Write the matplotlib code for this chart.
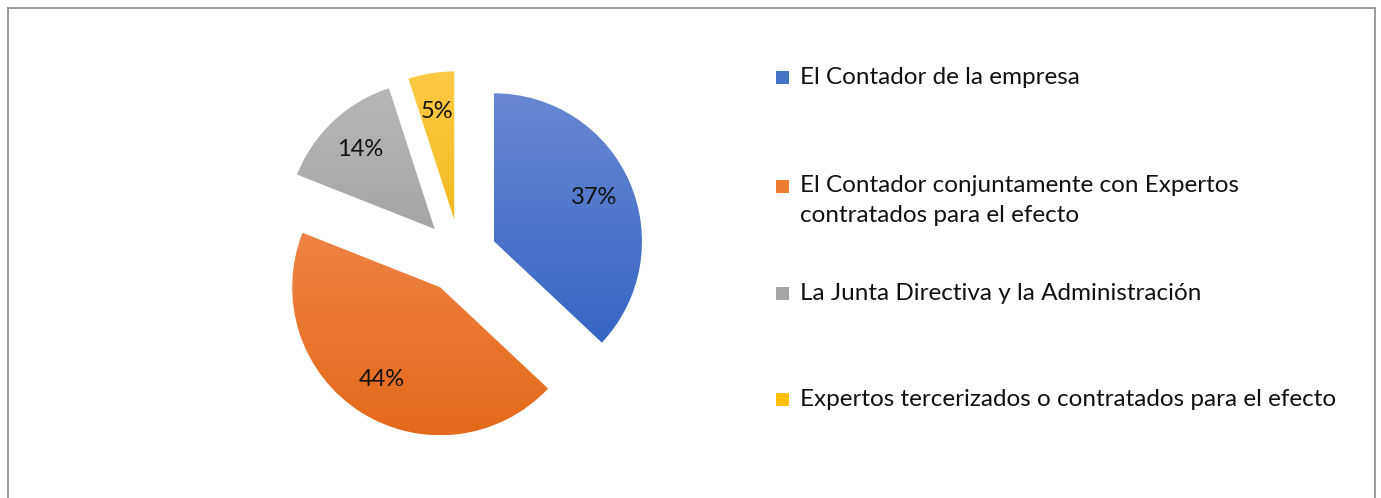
import numpy as np
import matplotlib
matplotlib.use('Agg')
import matplotlib.pyplot as plt
from matplotlib.colors import LinearSegmentedColormap
from matplotlib.patches import Rectangle
from matplotlib.lines import Line2D

plt.rcParams['font.family'] = ['Lato', 'DejaVu Sans']

# Données
categories = [
    'El Contador de la empresa',
    'El Contador conjuntamente con Expertos\ncontratados para el efecto',
    'La Junta Directiva y la Administración',
    'Expertos tercerizados o contratados para el efecto',
]
valeurs = [37, 44, 14, 5]

# Couleurs (haut clair -> bas foncé)
couleurs_haut = ['#6888D2', '#F38F58', '#B8B8B8', '#FFCA45']
couleurs_bas = ['#2D5FBF', '#E4691A', '#929292', '#E6AC00']
couleurs_legende = ['#4472C4', '#ED7D31', '#A5A5A5', '#FFC000']

W, H = 1381, 498
fig = plt.figure(figsize=(W / 100, H / 100), dpi=100)

# Camembert centré vers (460, 256) px, rayon 148 px
R = 148
cx, cy = 460, 256
ax = fig.add_axes([(cx - 200) / W, 1 - (cy + 200) / H, 400 / W, 400 / H])
scale = 200 / R

wedges, textes, pcts = ax.pie(
    valeurs, startangle=90, counterclock=False,
    explode=[0.25] * len(valeurs), radius=1.0,
    autopct='%1.0f%%', pctdistance=0.74,
    textprops={'fontsize': 17, 'color': '#111111'},
    wedgeprops={'linewidth': 0},
)
ax.set_aspect('equal')
ax.axis('off')

# Dégradé vertical pour chaque secteur
for w, c1, c2 in zip(wedges, couleurs_haut, couleurs_bas):
    w.set_facecolor('none')
    cmap = LinearSegmentedColormap.from_list('g', [c2, c1])
    cx_w, cy_w = w.center
    grad = np.linspace(0, 1, 256).reshape(-1, 1)
    im = ax.imshow(grad, cmap=cmap, origin='lower', aspect='auto',
                   extent=[cx_w - 1, cx_w + 1, cy_w - 1, cy_w + 1], zorder=1)
    im.set_clip_path(w)
for t in pcts:
    t.set_zorder(3)
ax.set_xlim(-scale, scale)
ax.set_ylim(-scale, scale)

# Légende manuelle
legende_y = [77, 186, 293, 399]
for lab, col, y in zip(categories, couleurs_legende, legende_y):
    fig.patches.append(Rectangle((776 / W, 1 - (y + 7) / H), 13 / W, 13 / H,
                                 transform=fig.transFigure, facecolor=col,
                                 edgecolor='none'))
    if '\n' in lab:
        fig.text(800 / W, 1 - (y - 11) / H, lab, fontsize=17.5, color='#111111',
                 va='top', ha='left', linespacing=1.55)
    else:
        fig.text(800 / W, 1 - y / H, lab, fontsize=17.5, color='#111111',
                 va='center', ha='left')

# Cadre
bord = '#8C8C8C'
fig.add_artist(Line2D([8 / W, 8 / W], [0, 1 - 8 / H], color=bord, lw=1.2,
                      transform=fig.transFigure))
fig.add_artist(Line2D([8 / W, 1375 / W], [1 - 8 / H, 1 - 8 / H], color=bord,
                      lw=1.2, transform=fig.transFigure))
fig.add_artist(Line2D([1375 / W, 1375 / W], [0, 1 - 8 / H], color=bord,
                      lw=1.2, transform=fig.transFigure))

fig.savefig('out.png', dpi=100)
